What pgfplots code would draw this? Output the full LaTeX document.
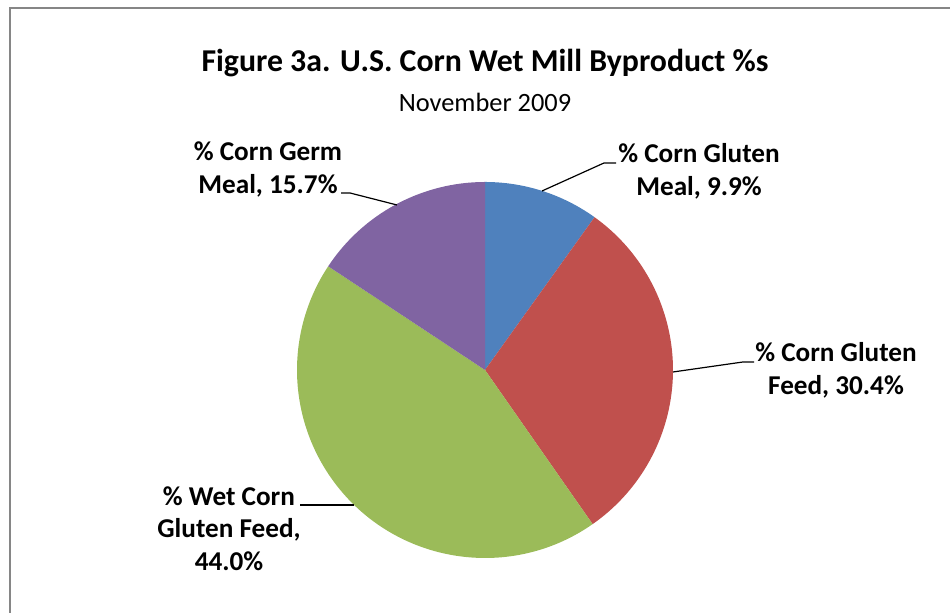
\documentclass[border=0pt]{standalone}
\usepackage{pgfplots}
\pgfplotsset{compat=1.18}
\usepackage{pgfplotstable}
\usepackage{fontspec}
\setmainfont{Carlito}
\definecolor{pblue}{HTML}{4F81BD}
\definecolor{pred}{HTML}{C0504D}
\definecolor{pgreen}{HTML}{9BBB59}
\definecolor{ppurple}{HTML}{8064A2}
\definecolor{frame}{HTML}{868686}
\pgfplotstableread{
value
9.9
30.4
44.0
15.7
}\piedata
\begin{document}
\begin{tikzpicture}
\pgfplotstablegetelem{0}{value}\of\piedata \let\vA\pgfplotsretval
\pgfplotstablegetelem{1}{value}\of\piedata \let\vB\pgfplotsretval
\pgfplotstablegetelem{2}{value}\of\piedata \let\vC\pgfplotsretval
\pgfplotstablegetelem{3}{value}\of\piedata \let\vD\pgfplotsretval
\pgfmathsetmacro\aA{90}
\pgfmathsetmacro\aB{\aA-3.6*\vA}
\pgfmathsetmacro\aC{\aB-3.6*\vB}
\pgfmathsetmacro\aD{\aC-3.6*\vC}
\pgfmathsetmacro\aE{\aD-3.6*\vD}
\begin{axis}[
  scale only axis, width=475pt, height=306.5pt,
  xmin=0, xmax=950, ymin=0, ymax=613,
  hide axis, clip=false,
]
% frame
\draw[frame, line width=1pt] (axis cs:10,0) -- (axis cs:10,605) -- (axis cs:950,605);
% pie slices
\fill[pblue] (axis cs:485,243) -- ++(\aA:94pt) arc[start angle=\aA, end angle=\aB, radius=94pt] -- cycle;
\fill[pred] (axis cs:485,243) -- ++(\aB:94pt) arc[start angle=\aB, end angle=\aC, radius=94pt] -- cycle;
\fill[pgreen] (axis cs:485,243) -- ++(\aC:94pt) arc[start angle=\aC, end angle=\aD, radius=94pt] -- cycle;
\fill[ppurple] (axis cs:485,243) -- ++(\aD:94pt) arc[start angle=\aD, end angle=\aE, radius=94pt] -- cycle;
% leader lines
\draw[line width=0.6pt] (axis cs:542,422) -- (axis cs:604,450) -- (axis cs:616,450);
\draw[line width=0.6pt] (axis cs:673,241) -- (axis cs:743,251) -- (axis cs:754,251);
\draw[line width=0.6pt] (axis cs:354,108) -- (axis cs:300,108);
\draw[line width=0.6pt] (axis cs:397,408) -- (axis cs:350,420) -- (axis cs:341,420);
% title
\node[anchor=base, inner sep=0pt, font=\bfseries\fontsize{15.9}{19}\selectfont] at (axis cs:485,541) {Figure 3a. U.S. Corn Wet Mill Byproduct \%s};
\node[anchor=base, inner sep=0pt, font=\fontsize{13.2}{16}\selectfont] at (axis cs:485,501) {November 2009};
% labels
\tikzset{lab/.style={anchor=base, inner sep=0pt, font=\bfseries\fontsize{13.6}{16}\selectfont}}
\node[lab] at (axis cs:699,450) {\% Corn Gluten};
\node[lab] at (axis cs:699,417) {Meal, 9.9\%};
\node[lab] at (axis cs:836,251) {\% Corn Gluten};
\node[lab] at (axis cs:836,218) {Feed, 30.4\%};
\node[lab] at (axis cs:229,107) {\% Wet Corn};
\node[lab] at (axis cs:229,75) {Gluten Feed,};
\node[lab] at (axis cs:229,42) {44.0\%};
\node[lab] at (axis cs:268,452) {\% Corn Germ};
\node[lab] at (axis cs:268,419) {Meal, 15.7\%};
\end{axis}
\pgfresetboundingbox
\path (0,0) rectangle (475pt,306.5pt);
\end{tikzpicture}
\end{document}
